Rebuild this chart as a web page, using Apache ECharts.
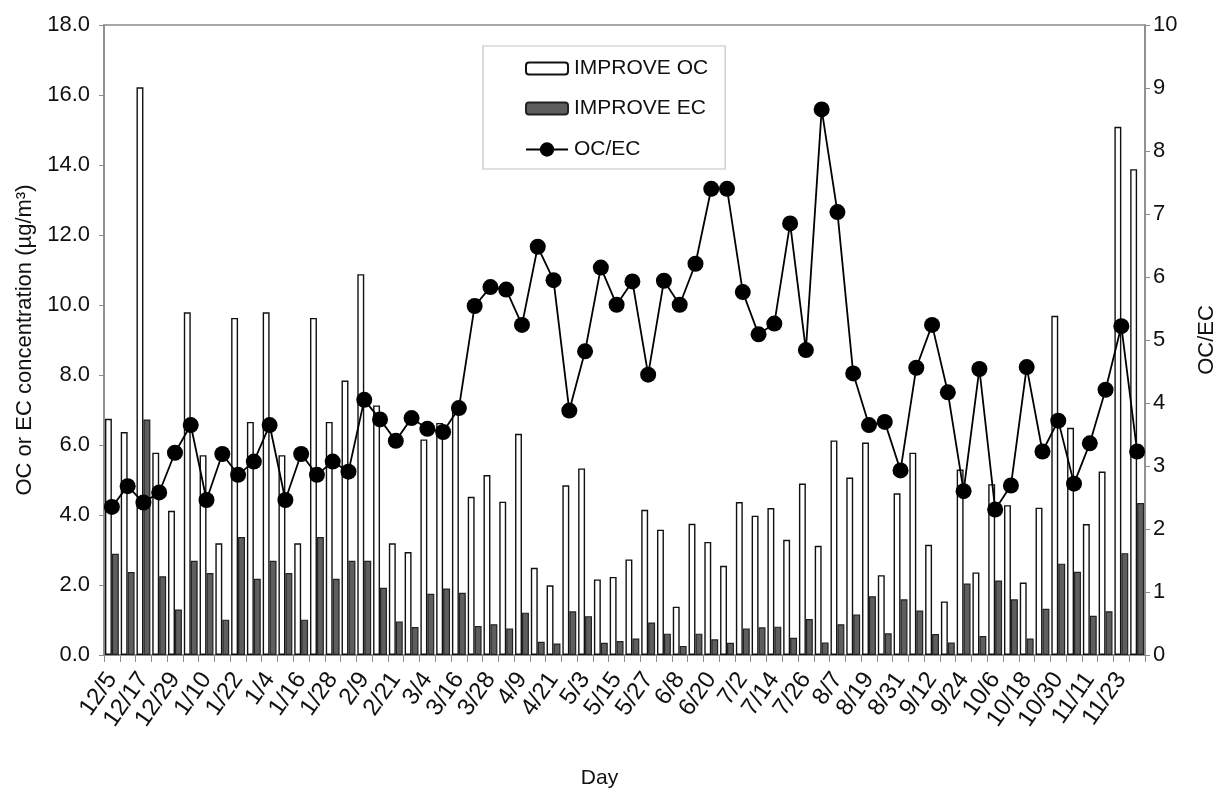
<!DOCTYPE html>
<html>
<head>
<meta charset="utf-8">
<script src="https://cdn.jsdelivr.net/npm/echarts@6/dist/echarts.min.js"></script>
<style>
html,body{margin:0;padding:0;background:#fff;}
#chart{width:1218px;height:790px;}
</style>
</head>
<body>
<div id="chart"></div>
<script>
var categories = ["12/5","12/11","12/17","12/23","12/29","1/4","1/10","1/16","1/22","1/28",
  "1/4","1/10","1/16","1/22","1/28","2/3","2/9","2/15","2/21","2/27",
  "3/4","3/10","3/16","3/22","3/28","4/3","4/9","4/15","4/21","4/27",
  "5/3","5/9","5/15","5/21","5/27","6/2","6/8","6/14","6/20","6/26",
  "7/2","7/8","7/14","7/20","7/26","8/1","8/7","8/13","8/19","8/25",
  "8/31","9/6","9/12","9/18","9/24","9/30","10/6","10/12","10/18","10/24",
  "10/30","11/5","11/11","11/17","11/23","11/29"];

var improveOC = [6.75,6.37,16.22,5.78,4.12,9.79,5.71,3.19,9.63,6.66,
  9.79,5.71,3.19,9.63,6.66,7.84,10.88,7.13,3.19,2.94,
  6.16,6.63,6.95,4.52,5.14,4.38,6.32,2.49,1.99,4.85,
  5.33,2.16,2.23,2.73,4.15,3.58,1.38,3.75,3.23,2.55,
  4.37,3.98,4.20,3.29,4.90,3.12,6.13,5.07,6.07,2.28,
  4.62,5.78,3.15,1.53,5.30,2.36,4.88,4.28,2.07,4.21,
  9.69,6.49,3.74,5.24,15.09,13.88];

var improveEC = [2.89,2.37,6.73,2.25,1.30,2.69,2.34,1.01,3.37,2.18,
  2.69,2.34,1.01,3.37,2.18,2.69,2.69,1.92,0.96,0.80,
  1.75,1.90,1.78,0.83,0.88,0.76,1.21,0.38,0.33,1.25,
  1.11,0.35,0.40,0.47,0.93,0.61,0.26,0.61,0.45,0.35,
  0.76,0.79,0.81,0.49,1.03,0.36,0.88,1.16,1.68,0.62,
  1.59,1.27,0.60,0.36,2.04,0.54,2.13,1.59,0.47,1.32,
  2.61,2.38,1.12,1.25,2.91,4.34];

var ocecRatio = [2.35,2.68,2.42,2.58,3.21,3.65,2.46,3.19,2.86,3.07,
  3.65,2.46,3.19,2.86,3.07,2.91,4.05,3.74,3.40,3.76,
  3.59,3.54,3.92,5.54,5.84,5.80,5.24,6.48,5.95,3.88,
  4.82,6.15,5.56,5.93,4.45,5.94,5.56,6.21,7.40,7.40,
  5.76,5.09,5.26,6.85,4.84,8.66,7.03,4.47,3.65,3.70,
  2.93,4.56,5.24,4.17,2.60,4.54,2.31,2.69,4.57,3.23,
  3.72,2.72,3.36,4.21,5.22,3.23];

var leftTicks = {min: 0, max: 18, interval: 2};
var rightTicks = {min: 0, max: 10, interval: 1};

var FONT = "'Liberation Sans', Arial, Helvetica, sans-serif";
var axisGray = '#8a8a8a';

var chart = echarts.init(document.getElementById('chart'), null, {renderer: 'canvas'});
chart.setOption({
  animation: false,
  backgroundColor: '#ffffff',
  textStyle: {fontFamily: FONT, color: '#111'},
  grid: {left: 104, right: 73, top: 25, bottom: 135, containLabel: false, outerBoundsMode: 'none',
    show: true, borderColor: axisGray, borderWidth: 1.5, backgroundColor: 'transparent'},
  legend: [{
    orient: 'vertical',
    left: 483, top: 46,
    padding: [12, 17, 50, 42],
    itemGap: 19,
    itemWidth: 42, itemHeight: 12,
    borderColor: '#c4c4c4', borderWidth: 1.2,
    textStyle: {fontFamily: FONT, fontSize: 21, color: '#111', padding: [0, 0, 0, 1]},
    data: ['IMPROVE OC', 'IMPROVE EC']
  }, {
    orient: 'vertical',
    left: 525, top: 139,
    padding: 0,
    itemWidth: 42, itemHeight: 18,
    textStyle: {fontFamily: FONT, fontSize: 21, color: '#111', padding: [0, 0, 0, 1]},
    data: ['OC/EC']
  }],
  xAxis: {
    type: 'category',
    data: categories,
    boundaryGap: true,
    name: 'Day',
    nameLocation: 'middle',
    nameGap: 113,
    nameTextStyle: {fontFamily: FONT, fontSize: 21, color: '#111', padding: [0, 50, 0, 0]},
    axisLine: {lineStyle: {color: axisGray, width: 1.5}},
    axisTick: {show: true, interval: 0, length: 7, lineStyle: {color: axisGray}},
    axisLabel: {interval: 1, rotate: 55, fontSize: 24, color: '#111', margin: 20, fontFamily: FONT},
    splitLine: {show: false}
  },
  yAxis: [{
    type: 'value',
    min: leftTicks.min, max: leftTicks.max, interval: leftTicks.interval,
    name: 'OC or EC concentration (\u00b5g/m\u00b3)',
    nameLocation: 'middle',
    nameGap: 64,
    nameRotate: 90,
    nameTextStyle: {fontFamily: FONT, fontSize: 22, color: '#111'},
    axisLine: {show: true, lineStyle: {color: axisGray, width: 1.5}},
    axisTick: {show: true, length: 5, lineStyle: {color: axisGray}},
    axisLabel: {fontSize: 22, color: '#111', margin: 14, fontFamily: FONT, formatter: function (v) { return v.toFixed(1); }},
    splitLine: {show: false}
  }, {
    type: 'value',
    position: 'right',
    min: rightTicks.min, max: rightTicks.max, interval: rightTicks.interval,
    name: 'OC/EC',
    nameLocation: 'middle',
    nameGap: 51,
    nameRotate: 90,
    nameTextStyle: {fontFamily: FONT, fontSize: 22, color: '#111'},
    axisLine: {show: true, lineStyle: {color: axisGray, width: 1.5}},
    axisTick: {show: true, length: 5, lineStyle: {color: axisGray}},
    axisLabel: {fontSize: 22, color: '#111', margin: 8, fontFamily: FONT},
    splitLine: {show: false}
  }],
  series: [{
    name: 'IMPROVE OC',
    type: 'bar',
    yAxisIndex: 0,
    data: improveOC,
    barGap: '0%',
    barCategoryGap: '12%',
    itemStyle: {color: '#ffffff', borderColor: '#111', borderWidth: 1.4},
    z: 2
  }, {
    name: 'IMPROVE EC',
    type: 'bar',
    yAxisIndex: 0,
    data: improveEC,
    barGap: '0%',
    barCategoryGap: '12%',
    itemStyle: {color: '#5e5e5e', borderColor: '#222', borderWidth: 1.2},
    z: 2
  }, {
    name: 'OC/EC',
    type: 'line',
    yAxisIndex: 1,
    data: ocecRatio,
    symbol: 'circle',
    symbolSize: 16,
    showAllSymbol: true,
    lineStyle: {color: '#000', width: 1.8},
    itemStyle: {color: '#000'},
    z: 5
  }]
});
</script>
</body>
</html>
